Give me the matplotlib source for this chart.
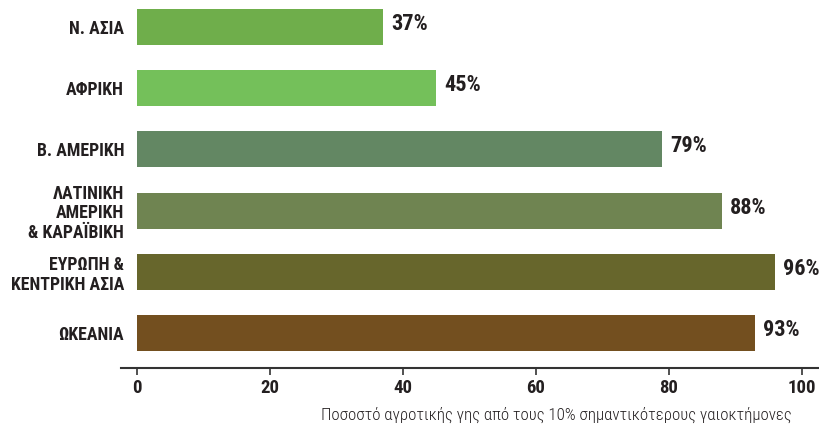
import matplotlib
matplotlib.use("Agg")
import matplotlib.pyplot as plt

categories = ["Ν. ΑΣΙΑ", "ΑΦΡΙΚΗ", "Β. ΑΜΕΡΙΚΗ", "ΛΑΤΙΝΙΚΗ\nΑΜΕΡΙΚΗ\n& ΚΑΡΑΪΒΙΚΗ",
              "ΕΥΡΩΠΗ &\nΚΕΝΤΡΙΚΗ ΑΣΙΑ", "ΩΚΕΑΝΙΑ"]
values = [37, 45, 79, 88, 96, 93]
colors = ["#6fae4b", "#74c05a", "#638763", "#6f8451", "#67662c", "#734f1f"]
xticks = [0, 20, 40, 60, 80, 100]
xlabel = "Ποσοστό αγροτικής γης από τους 10% σημαντικότερους γαιοκτήμονες"

FONT = ["Roboto Condensed", "DejaVu Sans"]
TXT = "#231f20"

fig = plt.figure(figsize=(8.2, 4.28), dpi=100)
ax = fig.add_axes([121/820, 60/428, 1 - 121/820, 368/428])

ypos = list(range(len(categories)))
ax.barh(ypos, values, height=0.59, color=colors, zorder=2)
ax.set_ylim(5.57, -0.44)
ax.set_xlim(-2.41, 102.77)

for y, v in zip(ypos, values):
    ax.text(v + 1.2, y - 0.05, f"{v}%", va="center", ha="left",
            family=FONT, fontweight="bold", fontsize=16, color=TXT)

ax.set_yticks(ypos)
ax.set_yticklabels(categories, family=FONT, fontweight="bold", fontsize=12.8,
                   color=TXT, linespacing=1.12)
ax.tick_params(axis="y", length=0, pad=-2.2)

ax.set_xticks(xticks)
ax.set_xticklabels([str(t) for t in xticks], family=FONT, fontweight="bold",
                   fontsize=13.5, color=TXT)
ax.tick_params(axis="x", length=5, width=1.2, color="#333333", pad=3)

for s in ["top", "right", "left"]:
    ax.spines[s].set_visible(False)
ax.spines["bottom"].set_color("#333333")
ax.spines["bottom"].set_linewidth(1.5)

fig.text(792/820, 1 - 415/428, xlabel, ha="right", va="center",
         family=FONT, fontweight="light", fontsize=12.2, color=TXT)

fig.savefig("out.png", dpi=100)
